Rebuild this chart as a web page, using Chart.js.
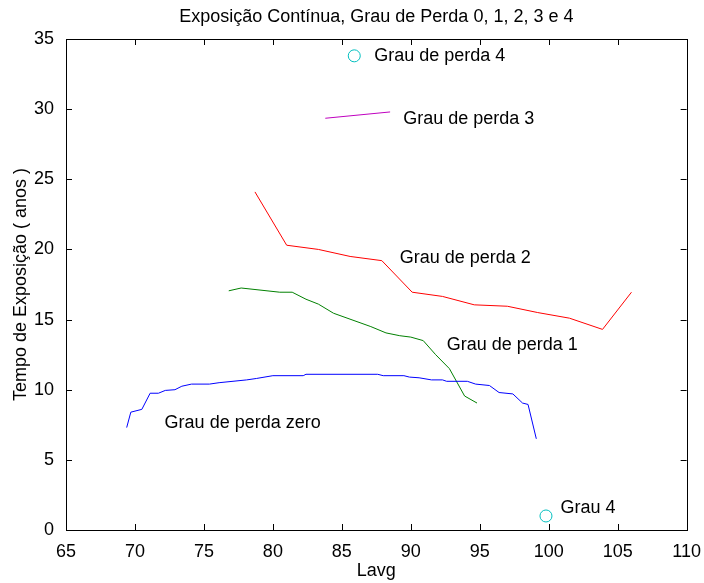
<!DOCTYPE html>
<html>
<head>
<meta charset="utf-8">
<script src="https://cdn.jsdelivr.net/npm/chart.js@4/dist/chart.umd.min.js"></script>
<style>
  html, body { margin: 0; padding: 0; background: #fff; }
  #wrap { width: 704px; height: 583px; }
</style>
</head>
<body>
<div id="wrap"><canvas id="c" width="704" height="583"></canvas></div>
<script>
// curvas (Lavg, anos)
const grau0X = [69.4, 69.7, 70.5, 71.1, 71.7, 72.2, 72.9, 73.4, 74.1, 75.4, 76.1, 78.1, 78.8, 80.0, 82.2, 82.4, 87.6, 88.0, 89.5, 89.9, 90.6, 91.5, 92.3, 92.6, 94.1, 94.7, 95.7, 96.4, 97.4, 98.1, 98.5, 99.1];
const grau0Y = [7.3, 8.4, 8.6, 9.75, 9.75, 9.95, 10.0, 10.25, 10.4, 10.4, 10.5, 10.7, 10.8, 11.0, 11.0, 11.1, 11.1, 11.0, 11.0, 10.9, 10.85, 10.7, 10.7, 10.6, 10.6, 10.4, 10.3, 9.8, 9.7, 9.05, 8.95, 6.5];

const grau1X = [76.8, 77.7, 80.5, 81.4, 82.4, 83.3, 84.4, 87.1, 88.2, 89.2, 90.0, 90.9, 91.8, 92.8, 93.9, 94.8];
const grau1Y = [17.05, 17.25, 16.95, 16.95, 16.45, 16.1, 15.45, 14.5, 14.05, 13.85, 13.75, 13.5, 12.5, 11.5, 9.55, 9.05];

const grau2X = [78.7, 81.0, 83.3, 85.6, 87.9, 90.1, 92.3, 94.6, 97.0, 99.2, 101.5, 103.9, 106.0];
const grau2Y = [24.1, 20.3, 20.0, 19.5, 19.2, 16.95, 16.65, 16.05, 15.95, 15.5, 15.1, 14.3, 16.95];

const grau3X = [83.8, 88.5];
const grau3Y = [29.35, 29.8];

const grau4X = [85.9, 99.8];
const grau4Y = [33.8, 1.0];

const xTicks = [65, 70, 75, 80, 85, 90, 95, 100, 105, 110];
const yTicks = [0, 5, 10, 15, 20, 25, 30, 35];

// textos no gráfico (canto esquerdo, em coordenadas dos dados)
const labelTexts = ['Grau de perda zero', 'Grau de perda 1', 'Grau de perda 2', 'Grau de perda 3', 'Grau de perda 4', 'Grau 4'];
const labelX = [72.15, 92.6, 89.2, 89.45, 87.35, 100.85];
const labelY = [7.6, 13.2, 19.4, 29.3, 33.8, 1.55];

const FONT = '"Liberation Sans", Arial, sans-serif';
const FSIZE = 18;

function pts(xs, ys) {
  return xs.map((x, i) => ({ x: x, y: ys[i] }));
}

function lineSet(xs, ys, color) {
  return {
    data: pts(xs, ys),
    showLine: true,
    borderColor: color,
    borderWidth: 1,
    pointRadius: 0,
    pointHoverRadius: 0,
    fill: false
  };
}

// moldura, marcas para dentro, título e textos
const matlabLook = {
  id: 'matlabLook',
  afterDraw(chart) {
    const ctx = chart.ctx;
    const a = chart.chartArea;
    const sx = chart.scales.x, sy = chart.scales.y;
    ctx.save();
    ctx.strokeStyle = '#000';
    ctx.lineWidth = 1;
    ctx.beginPath();
    xTicks.forEach(v => {
      const p = Math.round(sx.getPixelForValue(v)) + 0.5;
      ctx.moveTo(p, a.bottom); ctx.lineTo(p, a.bottom - 6);
      ctx.moveTo(p, a.top); ctx.lineTo(p, a.top + 6);
    });
    yTicks.forEach(v => {
      const p = Math.round(sy.getPixelForValue(v)) + 0.5;
      ctx.moveTo(a.left, p); ctx.lineTo(a.left + 6, p);
      ctx.moveTo(a.right, p); ctx.lineTo(a.right - 6, p);
    });
    ctx.stroke();
    ctx.strokeRect(Math.round(a.left) + 0.5, Math.round(a.top) + 0.5,
      Math.round(a.right - a.left), Math.round(a.bottom - a.top));

    ctx.fillStyle = '#000';
    ctx.font = FSIZE + 'px ' + FONT;
    ctx.textAlign = 'center';
    ctx.textBaseline = 'middle';
    ctx.fillText('Exposição Contínua, Grau de Perda 0, 1, 2, 3 e 4', (a.left + a.right) / 2, 17);

    ctx.textAlign = 'left';
    labelTexts.forEach((t, i) => {
      ctx.fillText(t, sx.getPixelForValue(labelX[i]), sy.getPixelForValue(labelY[i]));
    });
    ctx.restore();
  }
};

new Chart(document.getElementById('c'), {
  type: 'scatter',
  data: {
    datasets: [
      lineSet(grau0X, grau0Y, '#0000ff'),
      lineSet(grau1X, grau1Y, '#008000'),
      lineSet(grau2X, grau2Y, '#ff0000'),
      lineSet(grau3X, grau3Y, '#bf00bf'),
      {
        data: pts(grau4X, grau4Y),
        showLine: false,
        pointStyle: 'circle',
        pointRadius: 6,
        pointHoverRadius: 6,
        borderColor: '#00bfbf',
        backgroundColor: 'rgba(0,0,0,0)',
        borderWidth: 1
      }
    ]
  },
  options: {
    responsive: false,
    animation: false,
    layout: { padding: { left: 0, right: 17, top: 39, bottom: 0 } },
    plugins: {
      legend: { display: false },
      title: { display: false },
      tooltip: { enabled: false }
    },
    scales: {
      x: {
        type: 'linear',
        min: 65, max: 110,
        grid: { display: false },
        border: { display: false },
        afterFit: s => { s.height = 53; },
        afterBuildTicks: s => { s.ticks = xTicks.map(v => ({ value: v })); },
        ticks: { color: '#000', font: { family: FONT, size: FSIZE }, padding: 3, maxRotation: 0 },
        title: { display: true, text: 'Lavg', color: '#000', font: { family: FONT, size: FSIZE }, padding: { top: 0, bottom: 1 } }
      },
      y: {
        type: 'linear',
        min: 0, max: 35,
        grid: { display: false },
        border: { display: false },
        afterFit: s => { s.width = 66; },
        afterBuildTicks: s => { s.ticks = yTicks.map(v => ({ value: v })); },
        ticks: { color: '#000', font: { family: FONT, size: FSIZE }, padding: 4 },
        title: { display: true, text: 'Tempo de Exposição ( anos )', color: '#000', font: { family: FONT, size: FSIZE }, padding: { top: 10, bottom: 0 } }
      }
    }
  },
  plugins: [matlabLook]
});
</script>
</body>
</html>
